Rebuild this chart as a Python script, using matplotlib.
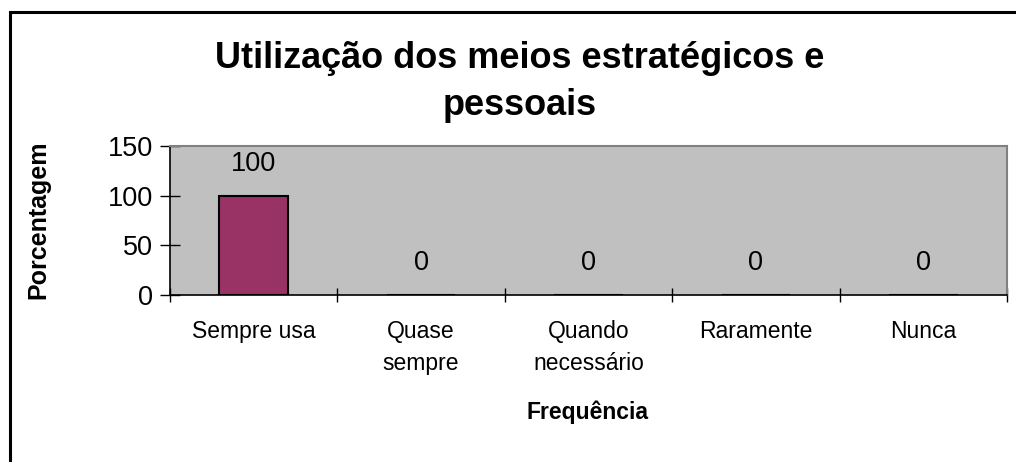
import matplotlib
matplotlib.use('Agg')
import matplotlib.pyplot as plt
from matplotlib.patches import Rectangle

plt.rcParams['font.family'] = ['Liberation Sans', 'DejaVu Sans']

# dados
categorias = ['Sempre usa', 'Quase\nsempre', 'Quando\nnecessário', 'Raramente', 'Nunca']
valores = [100, 0, 0, 0, 0]
yticks = [0, 50, 100, 150]

W, H = 1016, 462
fig = plt.figure(figsize=(W / 100, H / 100), dpi=100)
fig.patch.set_facecolor('white')

# moldura externa (cortada à direita e embaixo)
fig.patches.append(Rectangle((10 / W, -0.05), 1.2, 1 - 12 / H + 0.05,
                             transform=fig.transFigure, fill=False,
                             edgecolor='black', linewidth=2.2, zorder=0))

ax = fig.add_axes([170 / W, 1 - 295 / H, (1007 - 170) / W, (295 - 146) / H])
ax.set_facecolor('#C0C0C0')

x = list(range(len(categorias)))
ax.bar(x, valores, width=0.41, color='#993366', edgecolor='black', linewidth=1.5, zorder=3)

for xi, v in zip(x, valores):
    ax.annotate(str(v), (xi, v), xytext=(0, 23), textcoords='offset points',
                ha='center', va='center', fontsize=19.5)

ax.set_xlim(-0.5, len(categorias) - 0.5)
ax.set_ylim(0, 150)
ax.set_yticks(yticks)
ax.set_xticks(x)
ax.set_xticklabels(categorias, fontsize=16.5, linespacing=1.5, va='top')
ax.set_xticks([i - 0.5 for i in range(len(categorias) + 1)], minor=True)
ax.tick_params(axis='x', which='major', length=0, pad=18)
ax.tick_params(axis='x', which='minor', direction='inout', length=10, width=1)
ax.tick_params(axis='y', direction='inout', length=14, width=1, labelsize=19.5, pad=5)

for s in ['top', 'right']:
    ax.spines[s].set_color('#808080')
    ax.spines[s].set_linewidth(1.5)
for s in ['left', 'bottom']:
    ax.spines[s].set_color('black')
    ax.spines[s].set_linewidth(1.2)

fig.text(38 / W, 1 - 220 / H, 'Porcentagem', rotation=90, ha='center', va='center',
         fontsize=18, fontweight='bold')
fig.text(588 / W, 1 - 412 / H, 'Frequência', ha='center', va='center',
         fontsize=16.5, fontweight='bold')
fig.text(520 / W, 1 - 82 / H, 'Utilização dos meios estratégicos e\npessoais',
         ha='center', va='center', fontsize=26, fontweight='bold', linespacing=1.45)

fig.savefig('out.png', dpi=100)
